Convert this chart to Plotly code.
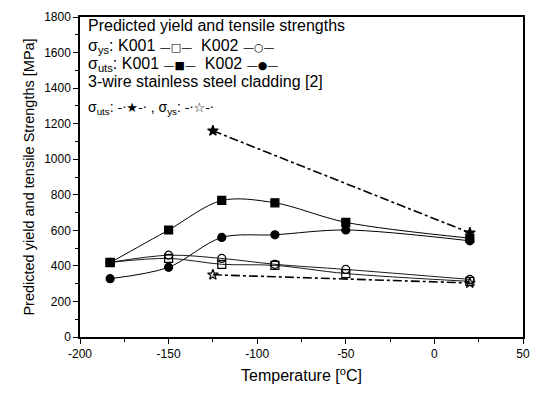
import plotly.graph_objects as go

# Temperatures [°C]
temps = [-183, -150, -120, -90, -50, 20]
k001_ys = [420, 442, 409, 403, 357, 313]
k002_ys = [420, 460, 442, 409, 380, 324]
k001_uts = [418, 602, 768, 755, 645, 556]
k002_uts = [328, 392, 560, 575, 602, 541]

clad_temps = [-125, 20]
clad_uts = [1160, 586]
clad_ys = [350, 304]

x_ticks = [-200, -150, -100, -50, 0, 50]
x_ticktext = ["-200", "-150", "-100", "-50", "0", "50"]

FONT = "Liberation Sans, Arial, sans-serif"

fig = go.Figure()

def add(x, y, symbol, dash="solid", width=1.0, size=8, shape="spline"):
    fig.add_trace(go.Scatter(
        x=x, y=y, mode="lines+markers",
        line=dict(color="black", width=width, dash=dash, shape=shape, smoothing=0.9),
        marker=dict(symbol=symbol, size=size, color="black",
                    line=dict(color="black", width=1.2)),
        showlegend=False))

add(temps, k001_ys, "square-open", width=0.9)
add(temps, k002_ys, "circle-open", width=0.9)
add(temps, k001_uts, "square", width=1.0)
add(temps, k002_uts, "circle", width=1.0)
add(clad_temps, clad_uts, "star", dash="dashdot", width=1.6, size=8, shape="linear")
add(clad_temps, clad_ys, "star-open", dash="dashdot", width=1.6, size=8, shape="linear")

def s(t, px=11):
    return f"<span style='font-family:DejaVu Sans;font-size:{px}px'>{t}</span>"

legend_lines = [
    ("Predicted yield and tensile strengths", 0.972, 16),
    (f"σ<sub>ys</sub>: K001 {s('—□—')}  K002 {s('—○—')}", 0.908, 16),
    (f"σ<sub>uts</sub>: K001 {s('—■—')}  K002 {s('—●—')}", 0.852, 16),
    ("3-wire stainless steel cladding [2]", 0.797, 16),
    (f"σ<sub>uts</sub>: {s('-·★-·', 13)} , σ<sub>ys</sub>: {s('-·☆-·', 13)}", 0.715, 14),
]
for txt, yy, fs in legend_lines:
    fig.add_annotation(text=txt, xref="paper", yref="paper", x=0.014, y=yy,
                       xanchor="left", yanchor="middle", showarrow=False,
                       font=dict(family=FONT, size=fs, color="black"))

axis_common = dict(
    showgrid=False, zeroline=False, showline=True, linecolor="black", linewidth=1.5,
    mirror=True, ticks="outside", ticklen=5, tickwidth=1.2, tickcolor="black",
    tickfont=dict(family=FONT, size=12, color="black"),
)

fig.update_xaxes(range=[-200, 50], tickvals=x_ticks, ticktext=x_ticktext,
                 minor=dict(dtick=25, tick0=-200, ticks="outside", ticklen=3, tickcolor="black"),
                 title=dict(text="Temperature [<sup>o</sup>C]", font=dict(family=FONT, size=16, color="black"),
                            standoff=10),
                 **axis_common)
fig.update_yaxes(range=[0, 1800], dtick=200, tick0=0,
                 minor=dict(dtick=100, ticks="outside", ticklen=3, tickcolor="black"),
                 title=dict(text="Predicted yield and tensile Strengths [MPa]",
                            font=dict(family=FONT, size=14.5, color="black"), standoff=6),
                 **axis_common)

fig.update_layout(
    width=540, height=394,
    margin=dict(l=80, r=15, t=10, b=57),
    plot_bgcolor="white", paper_bgcolor="white",
    font=dict(family=FONT, color="black"),
)

fig.write_html("out.html")
